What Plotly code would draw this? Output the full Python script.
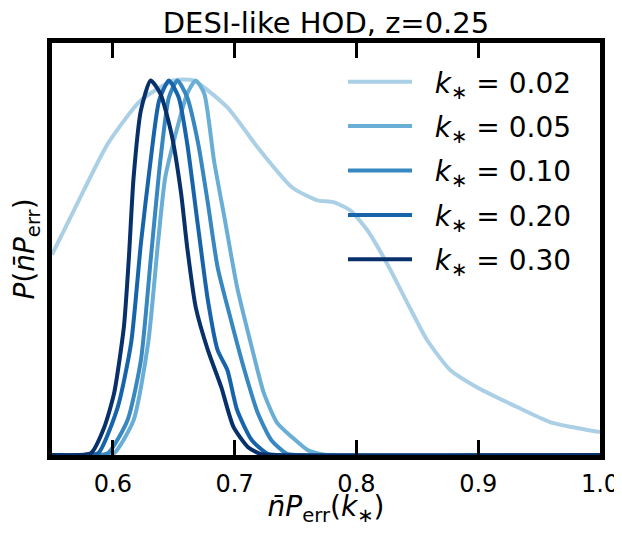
import plotly.graph_objects as go

# k* = 0.02
x_002 = [0.55, 0.568, 0.596, 0.623, 0.650, 0.666, 0.694, 0.719, 0.747, 0.768, 0.781, 0.795, 0.809,
         0.825, 0.842, 0.858, 0.877, 0.900, 0.932, 0.959, 0.981, 1.0]
y_002 = [0.535, 0.653, 0.832, 0.947, 1.0, 1.0, 0.928, 0.821, 0.715, 0.68, 0.675, 0.653, 0.60,
         0.512, 0.405, 0.307, 0.227, 0.179, 0.128, 0.088, 0.072, 0.061]
# k* = 0.05
x_005 = [0.55, 0.59, 0.601, 0.617, 0.629, 0.637, 0.643, 0.653, 0.661, 0.668, 0.675, 0.683, 0.692, 0.702,
         0.714, 0.724, 0.735, 0.747, 0.760, 0.770, 0.78, 1.0]
y_005 = [0.0, 0.0, 0.005, 0.093, 0.30, 0.565, 0.741, 0.875, 0.965, 1.0, 0.965, 0.787, 0.627, 0.448,
         0.288, 0.165, 0.085, 0.048, 0.013, 0.003, 0.0, 0.0]
# k* = 0.10
x_010 = [0.55, 0.585, 0.596, 0.612, 0.623, 0.631, 0.639, 0.646, 0.653, 0.661, 0.670, 0.678, 0.686, 0.697,
         0.708, 0.719, 0.730, 0.743, 0.753, 1.0]
y_010 = [0.0, 0.0, 0.005, 0.093, 0.253, 0.52, 0.787, 0.955, 1.0, 0.955, 0.832, 0.672, 0.501, 0.36,
         0.227, 0.112, 0.04, 0.003, 0.0, 0.0]
# k* = 0.20
x_020 = [0.55, 0.577, 0.588, 0.604, 0.615, 0.623, 0.631, 0.638, 0.646, 0.654, 0.661, 0.670, 0.678, 0.686,
         0.694, 0.702, 0.714, 0.727, 0.737, 1.0]
y_020 = [0.0, 0.0, 0.005, 0.128, 0.30, 0.565, 0.787, 0.947, 1.0, 0.955, 0.832, 0.608, 0.413, 0.28,
         0.227, 0.12, 0.04, 0.003, 0.0, 0.0]
# k* = 0.30
x_030 = [0.55, 0.571, 0.582, 0.593, 0.601, 0.609, 0.613, 0.617, 0.623, 0.631, 0.639, 0.648, 0.656, 0.661,
         0.668, 0.678, 0.689, 0.699, 0.711, 0.721, 0.731, 1.0]
y_030 = [0.0, 0.0, 0.005, 0.075, 0.165, 0.341, 0.52, 0.741, 0.92, 1.0, 0.965, 0.859, 0.699, 0.555,
         0.395, 0.28, 0.181, 0.075, 0.021, 0.003, 0.0, 0.0]

labels = ["0.02", "0.05", "0.10", "0.20", "0.30"]
colors = ["#abd0e6", "#6aaed6", "#3787c0", "#1864aa", "#08306b"]
series = [(x_002, y_002), (x_005, y_005), (x_010, y_010), (x_020, y_020), (x_030, y_030)]

tick_vals = [0.6, 0.7, 0.8, 0.9, 1.0]
tick_text = ["0.6", "0.7", "0.8", "0.9", "1.0"]

fig = go.Figure()
for (xs, ys), lab, col in zip(series, labels, colors):
    fig.add_trace(go.Scatter(
        x=xs, y=ys, mode="lines",
        line=dict(color=col, width=4, shape="spline", smoothing=0.6),
        name="\u00a0\u00a0<i>k</i><sub>∗</sub> = " + lab,
        legendgroup=lab,
    ))

# the page body adds an 8px margin, so the figure is sized/margined to compensate
fig.update_layout(
    width=614, height=519,
    margin=dict(l=44, r=22, t=35, b=72),
    paper_bgcolor="white", plot_bgcolor="white",
    font=dict(family="DejaVu Sans", size=24, color="black"),
    title=dict(text="DESI-like HOD, z=0.25", x=0.5, xanchor="center", xref="paper",
               y=0.972, yanchor="middle", yref="container", font=dict(size=29)),
    showlegend=True,
    legend=dict(x=0.958, xanchor="right", y=0.966, yanchor="top", bgcolor="rgba(0,0,0,0)",
                font=dict(size=28), itemwidth=64, tracegroupgap=5),
    xaxis=dict(range=[0.55, 1.0], tickvals=tick_vals, ticktext=tick_text,
               ticks="inside", ticklen=15, tickwidth=3, tickcolor="black",
               showline=True, linewidth=5, linecolor="black", mirror="allticks",
               showgrid=False, zeroline=False, automargin=False, ticklabelstandoff=3,
               ticklabeloverflow="allow", tickfont=dict(size=24),
               title=dict(text="<i>n̄P</i><sub>err</sub>(<i>k</i><sub>∗</sub>)", font=dict(size=28), standoff=18)),
    yaxis=dict(range=[0, 1.1], showticklabels=False, ticks="",
               showline=True, linewidth=5, linecolor="black", mirror=True,
               showgrid=False, zeroline=False, automargin=False,
               title=dict(text="<i>P</i>(<i>n̄P</i><sub>err</sub>)", font=dict(size=28), standoff=14)),
)

fig.write_html("out.html")
